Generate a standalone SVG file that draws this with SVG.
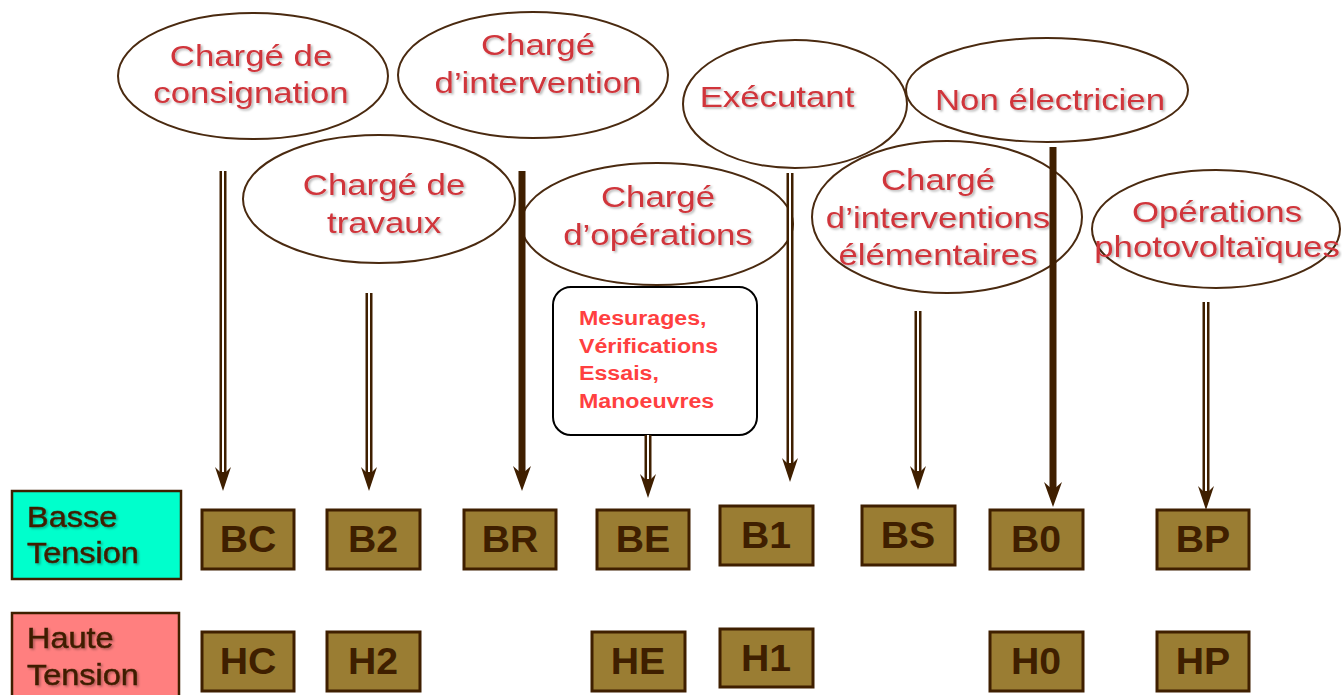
<svg xmlns="http://www.w3.org/2000/svg" width="1342" height="695" viewBox="0 0 1342 695">
<defs>
<filter id="sh" x="-10%" y="-20%" width="120%" height="140%"><feDropShadow dx="1.5" dy="1.5" stdDeviation="0.8" flood-color="#000" flood-opacity="0.3"/></filter>
<path id="ah" d="M0,0 L-8,-24 L0,-16 L8,-24 Z"/>
<path id="ahb" d="M0,0 L-9,-25 L0,-17 L9,-25 Z"/>
</defs>
<style>
.ell{fill:none;stroke:#4A2A10;stroke-width:2}
.et{font-family:"Liberation Sans",Arial,sans-serif;font-size:29px;fill:#D0343A;text-anchor:middle;filter:url(#sh)}
.box{fill:#9A7D33;stroke:#3F1F00;stroke-width:3}
.bt{font-family:"Liberation Sans",Arial,sans-serif;font-size:37px;font-weight:bold;fill:#3F1F00;text-anchor:middle}
.lt{font-family:"Liberation Sans",Arial,sans-serif;font-size:29px;fill:#3F1F00;stroke:#3F1F00;stroke-width:0.5;filter:url(#sh)}
.mt{font-family:"Liberation Sans",Arial,sans-serif;font-size:20px;font-weight:bold;fill:#FF4040}
.dl{stroke:#3F1F00;stroke-width:7}
.dw{stroke:#fff;stroke-width:2}
.tl{stroke:#3F1F00;stroke-width:7}
.hd{fill:#3F1F00}
</style>

<g id="n-consignation"><ellipse class="ell" cx="253" cy="76" rx="135" ry="63"/><text class="et" transform="matrix(1.2 0 0 1 251 66)">Chargé de</text><text class="et" transform="matrix(1.2 0 0 1 251 103)">consignation</text></g>
<g id="n-intervention"><ellipse class="ell" cx="533" cy="75" rx="135" ry="63"/><text class="et" transform="matrix(1.2 0 0 1 538 55)">Chargé</text><text class="et" transform="matrix(1.2 0 0 1 538 93)">d’intervention</text></g>
<g id="n-executant"><ellipse class="ell" cx="795" cy="104" rx="112" ry="64"/><text class="et" transform="matrix(1.2 0 0 1 777 107)">Exécutant</text></g>
<g id="n-nonelec"><ellipse class="ell" cx="1047" cy="90" rx="141" ry="52"/><text class="et" transform="matrix(1.2 0 0 1 1050 110)">Non électricien</text></g>
<g id="n-travaux"><ellipse class="ell" cx="379" cy="199" rx="136" ry="64"/><text class="et" transform="matrix(1.2 0 0 1 384 195)">Chargé de</text><text class="et" transform="matrix(1.2 0 0 1 384 233)">travaux</text></g>
<g id="n-operations"><ellipse class="ell" cx="657" cy="224" rx="136" ry="61"/><text class="et" transform="matrix(1.2 0 0 1 658 207)">Chargé</text><text class="et" transform="matrix(1.2 0 0 1 658 245)">d’opérations</text></g>
<g id="n-elementaires"><ellipse class="ell" cx="947" cy="217" rx="135" ry="76"/><text class="et" transform="matrix(1.2 0 0 1 938 190)">Chargé</text><text class="et" transform="matrix(1.2 0 0 1 938 228)">d’interventions</text><text class="et" transform="matrix(1.2 0 0 1 938 265)">élémentaires</text></g>
<g id="n-photo"><ellipse class="ell" cx="1216" cy="229" rx="124" ry="59"/><text class="et" transform="matrix(1.2 0 0 1 1217 222)">Opérations</text><text class="et" transform="matrix(1.2 0 0 1 1217 257)">photovoltaïques</text></g>

<g id="n-mesurages"><rect x="553" y="287" width="204" height="148" rx="18" fill="#fff" stroke="#000" stroke-width="2"/>
<text class="mt" transform="matrix(1.16 0 0 1 579 325)">Mesurages,</text><text class="mt" transform="matrix(1.16 0 0 1 579 353)">Vérifications</text><text class="mt" transform="matrix(1.16 0 0 1 579 380)">Essais,</text><text class="mt" transform="matrix(1.16 0 0 1 579 408)">Manoeuvres</text></g>

<g id="n-basse"><rect x="12" y="491" width="169" height="88" fill="#00FFCC" stroke="#3F1F00" stroke-width="2.5"/><text class="lt" transform="matrix(1.12 0 0 1 27 527)">Basse</text><text class="lt" transform="matrix(1.12 0 0 1 27 563)">Tension</text></g>
<g id="n-haute"><rect x="12" y="613" width="167" height="90" fill="#FF7F7F" stroke="#3F1F00" stroke-width="2.5"/><text class="lt" transform="matrix(1.12 0 0 1 27 648)">Haute</text><text class="lt" transform="matrix(1.12 0 0 1 27 685)">Tension</text></g>

<g id="n-BC"><rect class="box" x="202" y="510" width="92" height="59"/><text class="bt" transform="matrix(1.06 0 0 1 248 552)">BC</text></g>
<g id="n-B2"><rect class="box" x="327" y="510" width="93" height="59"/><text class="bt" transform="matrix(1.06 0 0 1 373 552)">B2</text></g>
<g id="n-BR"><rect class="box" x="464" y="510" width="92" height="59"/><text class="bt" transform="matrix(1.06 0 0 1 510 552)">BR</text></g>
<g id="n-BE"><rect class="box" x="597" y="510" width="92" height="59"/><text class="bt" transform="matrix(1.06 0 0 1 643 552)">BE</text></g>
<g id="n-B1"><rect class="box" x="720" y="506" width="93" height="59"/><text class="bt" transform="matrix(1.06 0 0 1 766 548)">B1</text></g>
<g id="n-BS"><rect class="box" x="862" y="506" width="93" height="59"/><text class="bt" transform="matrix(1.06 0 0 1 908 548)">BS</text></g>
<g id="n-B0"><rect class="box" x="990" y="510" width="93" height="59"/><text class="bt" transform="matrix(1.06 0 0 1 1036 552)">B0</text></g>
<g id="n-BP"><rect class="box" x="1157" y="510" width="92" height="59"/><text class="bt" transform="matrix(1.06 0 0 1 1203 552)">BP</text></g>

<g id="n-HC"><rect class="box" x="202" y="632" width="92" height="59"/><text class="bt" transform="matrix(1.06 0 0 1 248 674)">HC</text></g>
<g id="n-H2"><rect class="box" x="327" y="632" width="93" height="59"/><text class="bt" transform="matrix(1.06 0 0 1 373 674)">H2</text></g>
<g id="n-HE"><rect class="box" x="592" y="632" width="93" height="59"/><text class="bt" transform="matrix(1.06 0 0 1 638 674)">HE</text></g>
<g id="n-H1"><rect class="box" x="720" y="629" width="93" height="58"/><text class="bt" transform="matrix(1.06 0 0 1 766 671)">H1</text></g>
<g id="n-H0"><rect class="box" x="990" y="632" width="93" height="59"/><text class="bt" transform="matrix(1.06 0 0 1 1036 674)">H0</text></g>
<g id="n-HP"><rect class="box" x="1157" y="632" width="92" height="59"/><text class="bt" transform="matrix(1.06 0 0 1 1203 674)">HP</text></g>

<g id="connectors">
<line class="dl" x1="223" y1="171" x2="223" y2="475"/><line class="dw" x1="223" y1="171" x2="223" y2="472"/><use href="#ah" class="hd" x="223" y="491"/>
<line class="dl" x1="369" y1="293" x2="369" y2="475"/><line class="dw" x1="369" y1="293" x2="369" y2="472"/><use href="#ah" class="hd" x="369" y="491"/>
<line class="tl" x1="522" y1="171" x2="522" y2="475"/><use href="#ahb" class="hd" x="522" y="491"/>
<line class="dl" x1="648" y1="435" x2="648" y2="482"/><line class="dw" x1="648" y1="435" x2="648" y2="479"/><use href="#ah" class="hd" x="648" y="498"/>
<line class="dl" x1="790" y1="173" x2="790" y2="466"/><line class="dw" x1="790" y1="173" x2="790" y2="463"/><use href="#ah" class="hd" x="790" y="482"/>
<line class="dl" x1="918" y1="311" x2="918" y2="474"/><line class="dw" x1="918" y1="311" x2="918" y2="471"/><use href="#ah" class="hd" x="918" y="490"/>
<line class="tl" x1="1053" y1="147" x2="1053" y2="491"/><use href="#ahb" class="hd" x="1053" y="507"/>
<line class="dl" x1="1206" y1="302" x2="1206" y2="494"/><line class="dw" x1="1206" y1="302" x2="1206" y2="491"/><use href="#ah" class="hd" x="1206" y="510"/>
</g>
</svg>
